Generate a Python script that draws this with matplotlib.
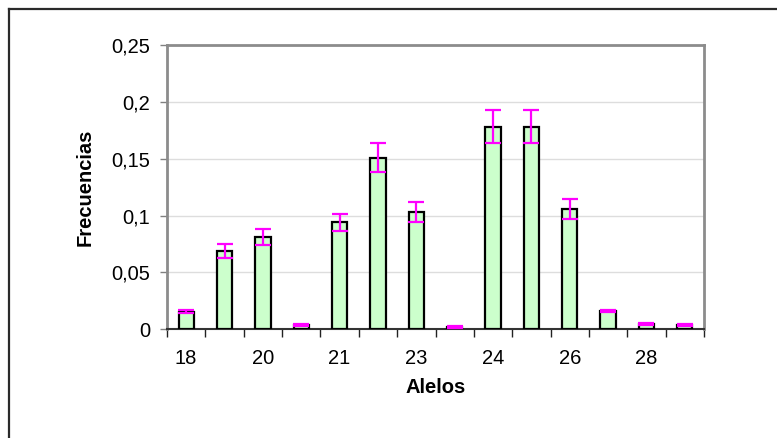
import matplotlib
matplotlib.use("Agg")
import matplotlib.pyplot as plt
from matplotlib.lines import Line2D
import numpy as np

# Allele categories and their frequencies with error margins
alelos = ["18", "19", "20", "20,2", "21", "22", "23", "23,2", "24", "25", "26", "27", "28", "29"]
frecuencias = [0.0155, 0.069, 0.081, 0.004, 0.094, 0.151, 0.103, 0.002,
               0.178, 0.178, 0.106, 0.016, 0.005, 0.0035]
errores = [0.0012, 0.006, 0.0068, 0.0008, 0.0078, 0.0125, 0.0087, 0.0005,
           0.0145, 0.0145, 0.009, 0.0012, 0.0008, 0.0008]
yticks = [0, 0.05, 0.1, 0.15, 0.2, 0.25]

plt.rcParams["font.family"] = ["Liberation Sans", "DejaVu Sans"]
FS = 14.5

W, H = 777, 438
fig = plt.figure(figsize=(W / 100, H / 100), dpi=100)
x0, x1, ytop, ybot = 167, 704, 45, 329.3
ax = fig.add_axes([x0 / W, 1 - ybot / H, (x1 - x0) / W, (ybot - ytop) / H])

x = np.arange(len(alelos))
ax.bar(x, frecuencias, width=0.4, color="#CCFFCC", edgecolor="black",
       linewidth=1.6, zorder=3)
ax.errorbar(x, frecuencias, yerr=errores, fmt="none", ecolor="#FF00FF",
            elinewidth=1.6, capsize=5.8, capthick=1.6, zorder=4)

ax.set_xlim(-0.5, len(alelos) - 0.5)
ax.set_ylim(0, 0.25)

# y axis
ax.set_yticks(yticks)
ax.set_yticklabels([f"{v:g}".replace(".", ",") for v in yticks], fontsize=FS)
ax.tick_params(axis="y", direction="out", length=5, width=1, color="#808080", pad=7)
ax.yaxis.grid(True, color="#DDDDDD", linewidth=1, zorder=0)

# x axis: ticks between categories, labels on every other category
ax.set_xticks(np.arange(-0.5, len(alelos), 1.0))
ax.set_xticklabels([])
ax.tick_params(axis="x", which="major", direction="out", length=6, width=1, color="#222222")
ax.set_xticks(x, minor=True)
ax.set_xticklabels([a if i % 2 == 0 else "" for i, a in enumerate(alelos)],
                   minor=True, fontsize=FS)
ax.tick_params(axis="x", which="minor", length=0, pad=14)

for side in ["left", "top", "right"]:
    ax.spines[side].set_color("#8C8C8C")
    ax.spines[side].set_linewidth(2)
ax.spines["bottom"].set_color("#333333")
ax.spines["bottom"].set_linewidth(1.5)

ax.text(-0.153, 0.5, "Frecuencias", transform=ax.transAxes, rotation=90,
        ha="center", va="center", fontsize=FS, fontweight="bold")
ax.text(0.5, -0.203, "Alelos", transform=ax.transAxes,
        ha="center", va="center", fontsize=FS, fontweight="bold")

# outer chart frame (left and top edges)
fig.add_artist(Line2D([8.5 / W, 8.5 / W], [0, 1 - 8.5 / H], transform=fig.transFigure,
                      color="#2A2A2A", linewidth=1.6))
fig.add_artist(Line2D([8.5 / W, 1], [1 - 8.5 / H, 1 - 8.5 / H], transform=fig.transFigure,
                      color="#2A2A2A", linewidth=1.6))

fig.savefig("out.png", dpi=100)
